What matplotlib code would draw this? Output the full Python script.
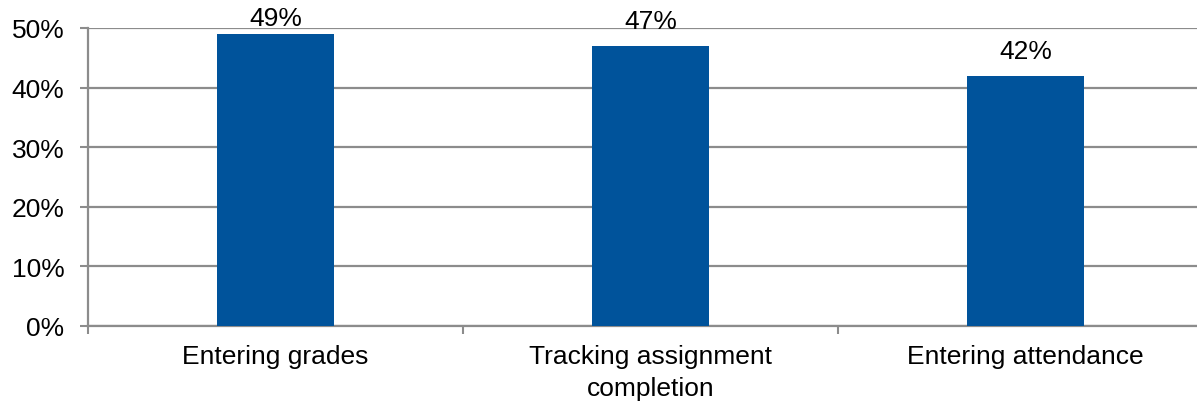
import matplotlib
matplotlib.use("Agg")
import matplotlib.pyplot as plt
import numpy as np

# Share of respondents per task
categories = ["Entering grades", "Tracking assignment\ncompletion", "Entering attendance"]
values = [49, 47, 42]
y_ticks = [0, 10, 20, 30, 40, 50]

bar_color = "#00539b"
grid_color = "#8c8c8c"

plt.rcParams["font.family"] = ["Liberation Sans", "DejaVu Sans"]

fig = plt.figure(figsize=(11.97, 4.02), dpi=100, facecolor="white")
# axes run past the right edge of the figure
ax = fig.add_axes([88 / 1197, 75 / 402, 1125 / 1197, 298 / 402])

x = np.arange(len(categories))
ax.bar(x, values, width=0.31, color=bar_color, zorder=3)

ax.set_xlim(-0.5, len(categories) - 0.5)
ax.set_ylim(0, 50)

# value labels sit above the bars, pulled down when they would run off the top
fig_h_px = fig.get_figheight() * fig.dpi
for xi, v in zip(x, values):
    top_px = fig_h_px - ax.transData.transform((xi, v))[1]
    offset = min(9, max(2, (top_px - 31) * 72 / fig.dpi))
    ax.annotate(f"{v}%", (xi, v), xytext=(0, offset), textcoords="offset points",
                ha="center", va="bottom", fontsize=19, color="black",
                annotation_clip=False)

ax.set_yticks(y_ticks)
ax.set_yticklabels([f"{t}%" for t in y_ticks], fontsize=19)
ax.set_xticks(x)
ax.set_xticklabels(categories, fontsize=19, linespacing=1.4)
ax.set_xticks(np.arange(len(categories) + 1) - 0.5, minor=True)

ax.tick_params(axis="x", which="major", length=0, pad=13)
ax.tick_params(axis="x", which="minor", length=5.5, width=1.5, color=grid_color)
ax.tick_params(axis="y", length=6, width=1.5, color=grid_color, pad=11)

ax.grid(axis="y", color=grid_color, linewidth=1.6, zorder=0)
ax.set_axisbelow(True)
for side in ["top", "right"]:
    ax.spines[side].set_visible(False)
for side in ["left", "bottom"]:
    ax.spines[side].set_color(grid_color)
    ax.spines[side].set_linewidth(1.6)

fig.savefig("out.png", dpi=100)
